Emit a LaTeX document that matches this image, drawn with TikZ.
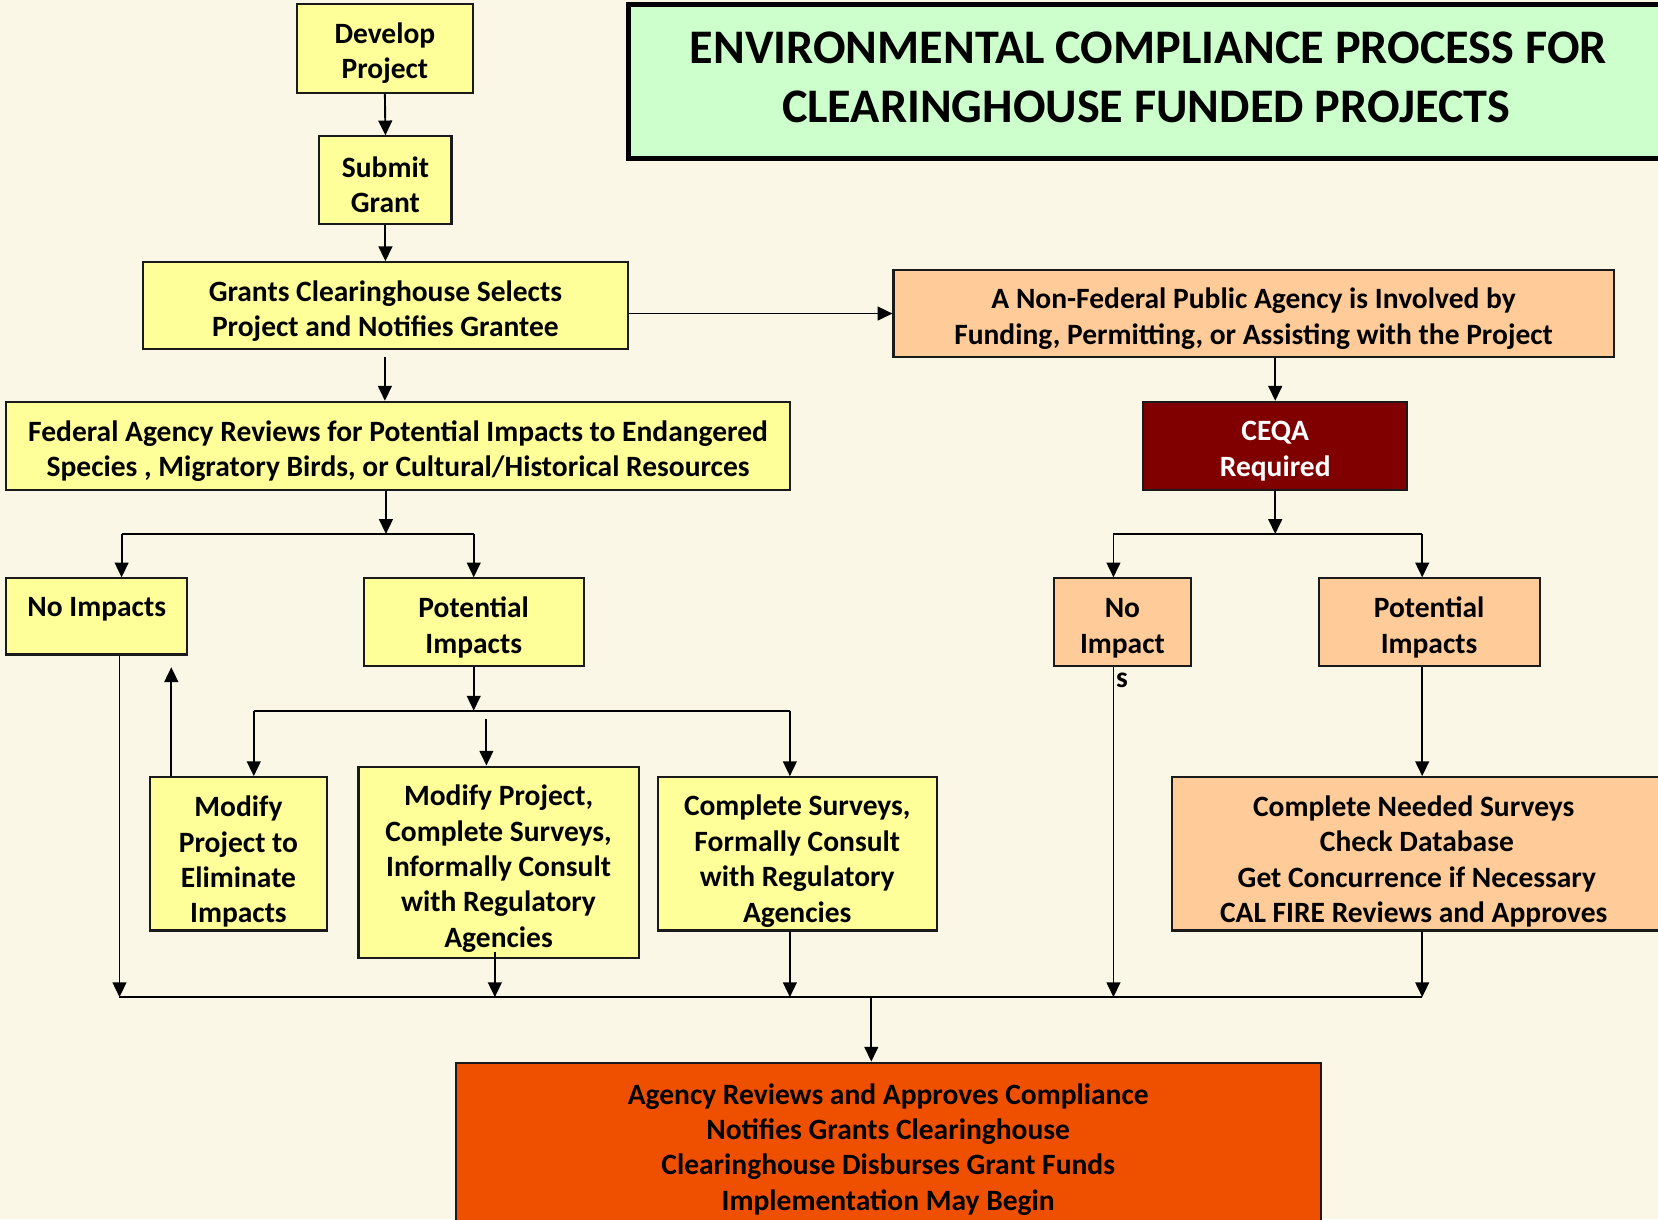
\documentclass[tikz,border=0pt]{standalone}
\usepackage{fontspec}
\setmainfont{Carlito}[BoldFont={Carlito Bold}]
\usetikzlibrary{arrows.meta,calc}
\definecolor{bgc}{HTML}{FAF7E6}
\definecolor{yel}{HTML}{FFFF99}
\definecolor{pch}{HTML}{FFCC99}
\definecolor{dred}{HTML}{800000}
\definecolor{org}{HTML}{EF5000}
\definecolor{grn}{HTML}{CCFFCC}
\definecolor{edge}{HTML}{1A1A1A}
\tikzset{
  bx/.style={draw=edge, line width=1pt, rectangle, inner sep=0pt},
  yb/.style={bx, fill=yel},
  pb/.style={bx, fill=pch},
  txt/.style={inner sep=0pt, align=center, font=\fontsize{13.95pt}{16.75pt}\selectfont\bfseries},
  arr/.style={line width=0.9pt, -{Triangle[length=7pt,width=6.5pt]}},
  ln/.style={line width=0.9pt},
}
% #1 box style, #2 name, #3 centre, #4 downward text shift (px), #5 text style, #6 text
\newcommand\bxnode[6]{%
  \node[#1] (#2) at (#3) {};
  \node[txt,#5] (#2t) at ([yshift={-#4*0.5pt}]#2.center) {#6};}
\begin{document}
\begin{tikzpicture}[x=0.5pt,y=-0.5pt]
\useasboundingbox (0,0) rectangle (1568,1153);
\fill[bgc] (0,0) rectangle (1568,1153);
% title
\node[draw=black, line width=2.3pt, fill=grn, minimum width=489.5pt, minimum height=73pt, inner sep=0pt, align=center,
  font=\fontsize{22.8pt}{27.5pt}\selectfont\bfseries] (title) at (1084,77)
  {\hspace*{2pt}ENVIRONMENTAL COMPLIANCE PROCESS FOR\\CLEARINGHOUSE FUNDED PROJECTS\rule[-4pt]{0pt}{4pt}};
% boxes
\bxnode{yb, minimum width=83pt, minimum height=42pt}{dev}{364,46}{4}{}{Develop\\Project}
\bxnode{yb, minimum width=62.5pt, minimum height=41.5pt}{sub}{364.5,170.5}{4}{}{Submit\\Grant}
\bxnode{yb, minimum width=229.5pt, minimum height=41pt}{gcs}{364.5,289}{5}{}{Grants Clearinghouse Selects\\Project and Notifies Grantee}
\bxnode{yb, minimum width=370.5pt, minimum height=41.5pt}{fed}{376.5,421.5}{5}{}{Federal Agency Reviews for Potential Impacts to Endangered\\Species , Migratory Birds, or Cultural/Historical Resources}
\bxnode{pb, minimum width=340.5pt, minimum height=41.5pt}{nonfed}{1185.5,296.5}{5}{}{A Non-Federal Public Agency is Involved by\\Funding, Permitting, or Assisting with the Project}
\bxnode{bx, fill=dred, minimum width=125pt, minimum height=41.5pt}{ceqa}{1206,421.5}{5}{text=white}{CEQA\\Required}
\node[yb, minimum width=85.5pt, minimum height=36pt] (noimpL) at (91.5,583) {};
\node[txt] (noimpLt) at (91.5,576) {No Impacts};
\bxnode{yb, minimum width=104pt, minimum height=41.5pt}{potL}{448,588.5}{5}{}{Potential\\Impacts}
\bxnode{yb, minimum width=83.5pt, minimum height=72.5pt}{modL}{225.5,807.5}{7.5}{}{Modify\\Project to\\Eliminate\\Impacts}
\bxnode{yb, minimum width=132.5pt, minimum height=90.5pt}{modM}{471.5,815.5}{6}{}{Modify Project,\\Complete Surveys,\\Informally Consult\\with Regulatory\\Agencies}
\bxnode{yb, minimum width=132pt, minimum height=72.5pt}{compL}{754,807.5}{7}{}{Complete Surveys,\\Formally Consult\\with Regulatory\\Agencies}
\bxnode{pb, minimum width=64.5pt, minimum height=41.5pt}{noimpR}{1061.5,588.5}{5.5}{}{No\\Impact}
\node[txt] (sR) at (1061,643) {s};
\bxnode{pb, minimum width=104.5pt, minimum height=41.5pt}{potR}{1351.5,588.5}{5}{}{Potential\\Impacts}
\bxnode{pb, minimum width=232pt, minimum height=72.5pt}{compR}{1340,807.5}{7}{}{Complete Needed Surveys\hspace*{3pt}\\Check Database\hspace*{3pt}\\Get Concurrence if Necessary\hspace*{3pt}\\CAL FIRE Reviews and Approves\hspace*{3pt}}
\bxnode{bx, fill=org, minimum width=409pt, minimum height=76pt}{final}{840,1081}{6}{}{Agency Reviews and Approves Compliance\\Notifies Grants Clearinghouse\\Clearinghouse Disburses Grant Funds\\Implementation May Begin}
% junction coordinates
\coordinate (gcsB) at (364,338);
\coordinate (fedJ) at (365,505);
\coordinate (fL) at (115,505);
\coordinate (fR) at (448,505);
\coordinate (pJ) at (448,672);
\coordinate (pL) at (240,672);
\coordinate (pR) at (747,672);
\coordinate (mTop) at (460,680);
\coordinate (upEnd) at (162,631);
\coordinate (cJ) at (1206,505);
\coordinate (cL) at (1053,505);
\coordinate (cR) at (1345,505);
\coordinate (bL) at (113,943);
\coordinate (bR) at (1345,943);
\coordinate (bJ) at (824,943);
\coordinate (mB) at (468,900);
% connectors
\draw[arr] (dev.south) -- (sub.north);
\draw[arr] (sub.south) -- (gcs.north);
\draw[arr] (gcsB) -- (gcsB |- fed.north);
\draw[arr] (nonfed.west -| gcs.east) -- (nonfed.west);
\draw[arr] (ceqa.north |- nonfed.south) -- (ceqa.north);
\draw[arr] (fedJ |- fed.south) -- (fedJ);
\draw[ln] (fL) -- (fR);
\draw[arr] (fL) -- (fL |- noimpL.north);
\draw[arr] (fR) -- (potL.north);
\draw[arr] (potL.south) -- (pJ);
\draw[ln] (pL) -- (pR);
\draw[arr] (pL) -- (pL |- modL.north);
\draw[arr] (pR) -- (pR |- compL.north);
\draw[arr] (mTop) -- (mTop |- modM.north);
\draw[arr] (upEnd |- modL.north) -- (upEnd);
\draw[arr] (cJ |- ceqa.south) -- (cJ);
\draw[ln] (cL) -- (cR);
\draw[arr] (cL) -- (cL |- noimpR.north);
\draw[arr] (cR) -- (cR |- potR.north);
\draw[arr] (cR |- potR.south) -- (cR |- compR.north);
\draw[ln] (bL) -- (bR);
\draw[arr] (bL |- noimpL.south) -- (bL);
\draw[arr] (mB) -- (mB |- bL);
\draw[arr] (pR |- compL.south) -- (pR |- bL);
\draw[arr] (cL |- noimpR.south) -- (cL |- bL);
\draw[arr] (bR |- compR.south) -- (bR);
\draw[arr] (bJ) -- (bJ |- final.north);
\end{tikzpicture}
\end{document}
